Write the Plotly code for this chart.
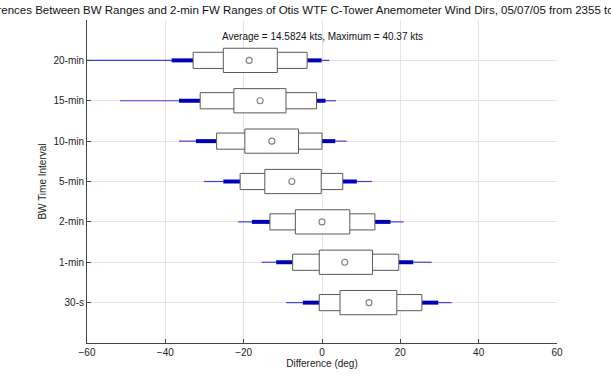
import plotly.graph_objects as go

# BW time intervals, bottom to top
categories = ["30-s", "1-min", "2-min", "5-min", "10-min", "15-min", "20-min"]

# Difference statistics (deg) for each interval
whisker_lo = [-9.2, -15.4, -21.4, -30.1, -36.5, -51.6, -64.0]
thick_lo   = [-4.9, -11.7, -17.9, -25.2, -32.2, -36.5, -38.4]
outer_lo   = [-0.7, -7.5, -13.3, -20.9, -26.9, -31.1, -32.9]
inner_lo   = [4.6, -0.7, -6.8, -14.6, -19.7, -22.5, -25.2]
center     = [12.0, 5.8, 0.0, -7.7, -12.8, -15.8, -18.6]
inner_hi   = [19.1, 12.9, 7.1, -0.2, -6.0, -9.2, -11.4]
outer_hi   = [25.5, 19.6, 13.5, 5.3, 0.0, -1.4, -3.8]
thick_hi   = [29.7, 23.3, 17.5, 8.9, 3.4, 0.9, -0.1]
whisker_hi = [33.1, 28.0, 20.8, 12.8, 6.3, 3.6, 1.9]

x_ticks = [-60, -40, -20, 0, 20, 40, 60]
title_text = ("Differences Between BW Ranges and 2-min FW Ranges of Otis WTF "
              "C-Tower Anemometer Wind Dirs, 05/07/05 from 2355 to 1155 on 05/08/05")
note_text = "Average = 14.5824 kts, Maximum = 40.37 kts"

ypos = list(range(1, len(categories) + 1))
FONT = "Liberation Sans, Arial, sans-serif"
BOX_COLOR = "#5a5a5a"
OUTER_HALF = 0.2
INNER_HALF = 0.3


def segments(lo, hi):
    xs, ys = [], []
    for a, b, y in zip(lo, hi, ypos):
        xs += [a, b, None]
        ys += [y, y, None]
    return xs, ys


def add_boxes(fig, lo, hi, half):
    for a, b, y in zip(lo, hi, ypos):
        fig.add_trace(go.Scatter(x=[a, b, b, a, a],
                                 y=[y - half, y - half, y + half, y + half, y - half],
                                 mode="lines", fill="toself", fillcolor="white",
                                 line=dict(color=BOX_COLOR, width=1),
                                 hoverinfo="skip", showlegend=False))


fig = go.Figure()

# thin outer whiskers
for lo, hi in ((whisker_lo, thick_lo), (thick_hi, whisker_hi)):
    xs, ys = segments(lo, hi)
    fig.add_trace(go.Scatter(x=xs, y=ys, mode="lines",
                             line=dict(color="#4040d0", width=1.2),
                             hoverinfo="skip", showlegend=False))

# thick inner whiskers
for lo, hi in ((thick_lo, outer_lo), (outer_hi, thick_hi)):
    xs, ys = segments(lo, hi)
    fig.add_trace(go.Scatter(x=xs, y=ys, mode="lines",
                             line=dict(color="#0000b4", width=4),
                             hoverinfo="skip", showlegend=False))

# outer (narrow) boxes, then inner (tall) boxes on top
add_boxes(fig, outer_lo, outer_hi, OUTER_HALF)
add_boxes(fig, inner_lo, inner_hi, INNER_HALF)

# centre markers
fig.add_trace(go.Scatter(x=center, y=ypos, mode="markers",
                         marker=dict(symbol="circle-open", size=6,
                                     color="#808080", line=dict(width=1.1)),
                         showlegend=False))

fig.add_annotation(x=0, y=7.6, xref="x", yref="y", text=note_text,
                   showarrow=False, font=dict(family=FONT, size=10, color="#111111"))

fig.add_annotation(x=(-28 - 87) / 470, y=1, xref="paper", yref="paper",
                   xanchor="left", yanchor="bottom", yshift=2,
                   text=title_text, showarrow=False,
                   font=dict(family=FONT, size=11.5, color="#111111"))

fig.update_layout(
    width=611, height=379,
    margin=dict(l=87, r=54, t=20, b=30),
    paper_bgcolor="white", plot_bgcolor="white",
    font=dict(family=FONT, size=10, color="#222222"),
    xaxis=dict(range=[-60, 60], tickvals=x_ticks, showgrid=True,
               gridcolor="#e4e4e4", gridwidth=1, zeroline=False,
               showline=True, linecolor="#444444", linewidth=1,
               ticks="inside", ticklen=4, tickcolor="#444444",
               title=dict(text="Difference (deg)", standoff=2,
                          font=dict(size=10)),
               tickfont=dict(size=10)),
    yaxis=dict(range=[0, 8], tickvals=ypos, ticktext=categories,
               showgrid=True, gridcolor="#e4e4e4", gridwidth=1,
               zeroline=False, showline=True, linecolor="#444444",
               linewidth=1, ticks="inside", ticklen=4, tickcolor="#444444",
               title=dict(text="BW Time Interval", standoff=4,
                          font=dict(size=10)),
               tickfont=dict(size=10)),
)

fig.write_html("out.html")
